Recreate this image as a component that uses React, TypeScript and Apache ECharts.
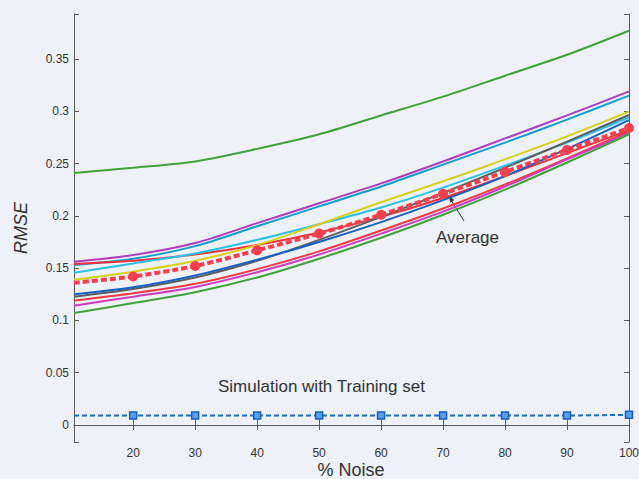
import React, { useEffect, useRef } from 'react';
import * as echarts from 'echarts';

const X_MIN = 10.45;
const X_MAX = 100;
const Y_MIN = -0.0163;
const Y_MAX = 0.393;

const noise = [X_MIN, 20, 30, 40, 50, 60, 70, 80, 90, 100];

const greenTop = [0.241, 0.246, 0.252, 0.264, 0.278, 0.296, 0.314, 0.334, 0.354, 0.377];
const purple = [0.156, 0.1625, 0.174, 0.193, 0.212, 0.231, 0.252, 0.274, 0.296, 0.319];
const cyan = [0.153, 0.159, 0.171, 0.19, 0.209, 0.228, 0.249, 0.27, 0.292, 0.315];
const redUpper = [0.154, 0.157, 0.163, 0.172, 0.184, 0.199, 0.217, 0.238, 0.26, 0.282];
const lightCyan = [0.1456, 0.1545, 0.164, 0.177, 0.192, 0.208, 0.227, 0.248, 0.27, 0.294];
const yellow = [0.139, 0.1466, 0.157, 0.172, 0.192, 0.213, 0.233, 0.254, 0.276, 0.2996];
const gray = [0.1227, 0.13, 0.141, 0.157, 0.177, 0.199, 0.222, 0.246, 0.271, 0.2964];
const blue = [0.125, 0.1316, 0.143, 0.158, 0.175, 0.194, 0.215, 0.238, 0.264, 0.2916];
const redLower = [0.119, 0.126, 0.135, 0.149, 0.166, 0.186, 0.207, 0.23, 0.255, 0.281];
const magenta = [0.114, 0.1227, 0.132, 0.146, 0.163, 0.183, 0.204, 0.228, 0.254, 0.279];
const greenBottom = [0.107, 0.1166, 0.127, 0.141, 0.159, 0.179, 0.201, 0.225, 0.251, 0.278];
const average = [0.136, 0.142, 0.152, 0.167, 0.183, 0.201, 0.221, 0.242, 0.263, 0.284];
const training = [0.009, 0.009, 0.009, 0.009, 0.009, 0.009, 0.009, 0.009, 0.009, 0.0097];

const curves: { name: string; values: number[]; color: string }[] = [
  { name: 'Green (high)', values: greenTop, color: '#3fa23a' },
  { name: 'Purple', values: purple, color: '#b03cc0' },
  { name: 'Cyan', values: cyan, color: '#129fcf' },
  { name: 'Red (upper)', values: redUpper, color: '#f0303c' },
  { name: 'Light cyan', values: lightCyan, color: '#2cc0e6' },
  { name: 'Yellow', values: yellow, color: '#d6cf1c' },
  { name: 'Gray', values: gray, color: '#5e5e5e' },
  { name: 'Blue', values: blue, color: '#1860c4' },
  { name: 'Red (lower)', values: redLower, color: '#f23a44' },
  { name: 'Magenta', values: magenta, color: '#cc3cc0' },
  { name: 'Green (low)', values: greenBottom, color: '#3fa23a' },
];

const FONT = 'Liberation Sans, Arial, Helvetica, sans-serif';
const TXT = '#333333';
const AXIS = '#5a5a5a';

const isMultiple = (v: number, step: number) => Math.abs(v - Math.round(v / step) * step) < 1e-9;

export default function App() {
  const ref = useRef<HTMLDivElement>(null);
  useEffect(() => {
    document.body.style.margin = '0';
    const chart = echarts.init(ref.current!, null, { renderer: 'svg' });
    const axisCommon = {
      type: 'value' as const,
      splitLine: { show: false },
      axisLine: { show: true, lineStyle: { color: AXIS, width: 1 } },
      axisTick: { show: true, inside: true, length: 5, lineStyle: { color: AXIS } },
    };
    const lineSeries = curves.map((c) => ({
      type: 'line',
      name: c.name,
      data: noise.map((x, i) => [x, c.values[i]]),
      smooth: 0.3,
      showSymbol: false,
      symbol: 'none',
      lineStyle: { color: c.color, width: 2 },
      itemStyle: { color: c.color },
      z: 2,
    }));
    const option: any = {
      animation: false,
      backgroundColor: '#eef1f7',
      textStyle: { fontFamily: FONT },
      grid: { left: 74, right: 10, top: 14, bottom: 37, containLabel: false, outerBoundsMode: 'none' },
      xAxis: [
        {
          ...axisCommon,
          position: 'bottom',
          min: X_MIN,
          max: X_MAX,
          minInterval: 10,
          maxInterval: 10,
          axisLabel: {
            margin: 5,
            fontSize: 12,
            color: TXT,
            fontFamily: FONT,
            formatter: (v: number) => (isMultiple(v, 10) ? String(Math.round(v)) : ''),
          },
        },
        {
          ...axisCommon,
          position: 'top',
          min: X_MIN,
          max: X_MAX,
          minInterval: 10,
          maxInterval: 10,
          axisLabel: { show: false },
        },
      ],
      yAxis: [
        {
          ...axisCommon,
          position: 'left',
          min: Y_MIN,
          max: Y_MAX,
          minInterval: 0.05,
          maxInterval: 0.05,
          axisLabel: {
            margin: 5,
            fontSize: 12,
            color: TXT,
            fontFamily: FONT,
            formatter: (v: number) => (isMultiple(v, 0.05) ? String(+v.toFixed(2)) : ''),
          },
          name: 'RMSE',
          nameLocation: 'middle',
          nameGap: 44,
          nameTextStyle: { fontSize: 18, fontStyle: 'italic', color: TXT, fontFamily: FONT },
        },
        {
          ...axisCommon,
          position: 'right',
          min: Y_MIN,
          max: Y_MAX,
          minInterval: 0.05,
          maxInterval: 0.05,
          axisLabel: { show: false },
        },
      ],
      series: [
        ...lineSeries,
        {
          type: 'line',
          name: 'Average',
          data: noise.map((x, i) => (i === 0 ? { value: [x, average[i]], symbol: 'none' } : [x, average[i]])),
          smooth: 0.3,
          symbol: 'circle',
          symbolSize: 10,
          lineStyle: { color: '#f4404e', width: 4, type: [6, 3] },
          itemStyle: { color: '#f4404e' },
          z: 5,
        },
        {
          type: 'line',
          name: 'Simulation with Training set',
          data: noise.map((x, i) => (i === 0 ? { value: [x, training[i]], symbol: 'none' } : [x, training[i]])),
          symbol: 'rect',
          symbolSize: 7,
          lineStyle: { color: '#1a6fd0', width: 2, type: [5, 3] },
          itemStyle: { color: '#5b9fe6', borderColor: '#1560c0', borderWidth: 1.5 },
          z: 5,
        },
      ],
      graphic: [
        {
          type: 'text',
          x: 351,
          y: 470,
          style: {
            text: '% Noise',
            font: `18px ${FONT}`,
            lineHeight: 18,
            fill: TXT,
            align: 'center',
            verticalAlign: 'middle',
          },
        },
        {
          type: 'text',
          left: 218,
          top: 378,
          style: { text: 'Simulation with Training set', font: `17px ${FONT}`, fill: TXT },
        },
        {
          type: 'text',
          left: 436,
          top: 229,
          style: { text: 'Average', font: `17px ${FONT}`, fill: TXT },
        },
        {
          type: 'line',
          shape: { x1: 464, y1: 221, x2: 451, y2: 200 },
          style: { stroke: '#333', lineWidth: 1 },
        },
        {
          type: 'polygon',
          shape: { points: [[449, 196], [454.2, 200], [450.2, 202.4]] },
          style: { fill: '#333' },
        },
      ],
    };
    chart.setOption(option);
    return () => chart.dispose();
  }, []);
  return <div ref={ref} style={{ width: 639, height: 479 }} />;
}
